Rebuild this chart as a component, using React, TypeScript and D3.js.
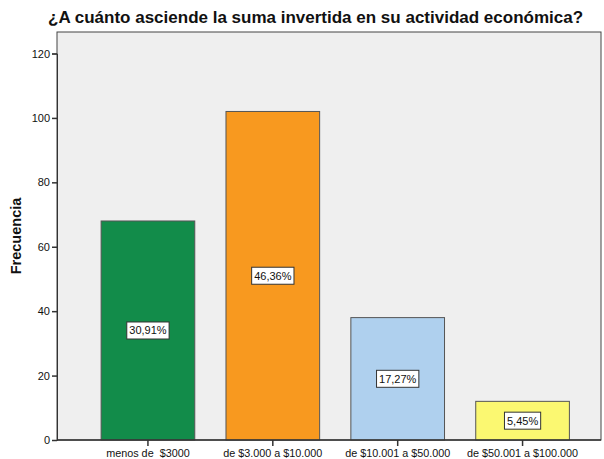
import React, { useEffect, useRef } from 'react';
import * as d3 from 'd3';

const categories = ['menos de  $3000', 'de $3.000 a $10.000', 'de $10.001 a $50.000', 'de $50.001 a $100.000'];
const frecuencias = [68, 102, 38, 12];
const porcentajes = ['30,91%', '46,36%', '17,27%', '5,45%'];
const colores = ['#128c4a', '#f8991f', '#afd0ee', '#fbf871'];
const yTicks = [0, 20, 40, 60, 80, 100, 120];

const App = () => {
  const svgRef = useRef<SVGSVGElement>(null);

  useEffect(() => {
    if (!svgRef.current) return;
    const width = 604;
    const height = 459;
    const svg = d3.select(svgRef.current);
    svg.selectAll('*').remove();

    const frame = { left: 57, right: 601, top: 32, bottom: 440 };

    const x = d3.scaleBand<string>()
      .domain(categories)
      .range([85.5, 585])
      .paddingInner(0.25)
      .paddingOuter(0.125);

    const y = d3.scaleLinear()
      .domain([0, 120])
      .range([frame.bottom, 53.5]);

    // plot background
    svg.append('rect')
      .attr('x', frame.left)
      .attr('y', frame.top)
      .attr('width', frame.right - frame.left)
      .attr('height', frame.bottom - frame.top)
      .attr('fill', '#efefef')
      .attr('stroke', '#444')
      .attr('stroke-width', 1);

    // title
    svg.append('text')
      .attr('x', 48)
      .attr('y', 23)
      .attr('font-family', 'Liberation Sans, Arial, sans-serif')
      .attr('font-size', 17)
      .attr('font-weight', 'bold')
      .attr('fill', '#111')
      .text('¿A cuánto asciende la suma invertida en su actividad económica?');

    // bars
    svg.selectAll('rect.bar')
      .data(frecuencias)
      .enter()
      .append('rect')
      .attr('class', 'bar')
      .attr('x', (_, i) => x(categories[i])!)
      .attr('y', d => y(d))
      .attr('width', x.bandwidth())
      .attr('height', d => y(0) - y(d))
      .attr('fill', (_, i) => colores[i])
      .attr('stroke', '#555')
      .attr('stroke-width', 1);

    // percentage labels
    const labels = svg.selectAll('g.lbl')
      .data(frecuencias)
      .enter()
      .append('g')
      .attr('class', 'lbl')
      .attr('transform', (d, i) => `translate(${x(categories[i])! + x.bandwidth() / 2}, ${(y(d) + y(0)) / 2})`);

    labels.each(function (_, i) {
      const g = d3.select(this);
      const t = g.append('text')
        .attr('text-anchor', 'middle')
        .attr('dy', '0.35em')
        .attr('font-family', 'Liberation Sans, Arial, sans-serif')
        .attr('font-size', 11)
        .attr('fill', '#111')
        .text(porcentajes[i]);
      const w = (t.node() as SVGTextElement).getComputedTextLength();
      g.insert('rect', 'text')
        .attr('x', -w / 2 - 2.5)
        .attr('y', -8.5)
        .attr('width', w + 5)
        .attr('height', 17)
        .attr('fill', '#fff')
        .attr('stroke', '#333')
        .attr('stroke-width', 1);
    });

    // y axis
    const yAxis = svg.append('g')
      .attr('transform', `translate(${frame.left},0)`)
      .call(d3.axisLeft(y).tickValues(yTicks).tickSize(5).tickPadding(2));
    yAxis.select('.domain').attr('stroke', '#333');
    yAxis.selectAll('line').attr('stroke', '#333').attr('stroke-width', 1.5);
    yAxis.selectAll('text')
      .attr('font-family', 'Liberation Sans, Arial, sans-serif')
      .attr('font-size', 11)
      .attr('fill', '#111');

    // x axis
    const xAxis = svg.append('g')
      .attr('transform', `translate(0,${frame.bottom})`)
      .call(d3.axisBottom(x).tickSize(6).tickPadding(3).tickSizeOuter(0));
    xAxis.select('.domain')
      .attr('d', `M${frame.left},0H${frame.right}`)
      .attr('stroke', '#333')
      .attr('stroke-width', 1.5);
    xAxis.selectAll('line').attr('stroke', '#333').attr('stroke-width', 1.5);
    xAxis.selectAll('text')
      .attr('font-family', 'Liberation Sans, Arial, sans-serif')
      .attr('font-size', 10.8)
      .attr('fill', '#111')
      .style('white-space', 'pre');

    // y label
    svg.append('text')
      .attr('transform', `translate(21, ${(frame.top + frame.bottom) / 2}) rotate(-90)`)
      .attr('text-anchor', 'middle')
      .attr('font-family', 'Liberation Sans, Arial, sans-serif')
      .attr('font-size', 14.5)
      .attr('font-weight', 'bold')
      .attr('fill', '#111')
      .text('Frecuencia');

    svg.attr('width', width).attr('height', height);
  }, []);

  return (
    <svg
      ref={svgRef}
      width={604}
      height={459}
      style={{ position: 'absolute', left: 0, top: 0, background: '#fff' }}
    />
  );
};

export default App;
